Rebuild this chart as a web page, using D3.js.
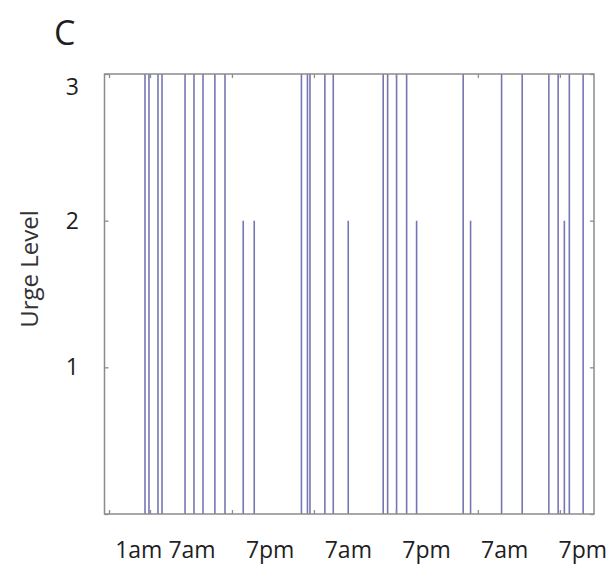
<!DOCTYPE html>
<html>
<head>
<meta charset="utf-8">
<script src="https://cdn.jsdelivr.net/npm/d3@7"></script>
<style>
  html, body { margin: 0; padding: 0; background: #fff; }
  svg { display: block; font-family: "Open Sans", "DejaVu Sans", sans-serif; }
</style>
</head>
<body>
<svg id="chart" width="616" height="564"></svg>
<script>
// ---- data (hours since midnight of day 1) ----
const eventHours = [6.27, 6.85, 8.17, 8.76, 12.13, 13.44, 14.76, 16.5, 17.98, 20.65, 22.26,
                    29.17, 30.05, 30.42, 32.6, 33.83, 36.02, 41.14, 41.79, 43.1, 44.57, 46.03,
                    52.85, 53.93, 58.47, 61.49, 65.39, 66.75, 67.66, 68.39, 70.41];
const urgeLevels = [3, 3, 3, 3, 3, 3, 3, 3, 3, 2, 2,
                    3, 3, 3, 3, 3, 2, 3, 3, 3, 3, 2,
                    3, 2, 3, 3, 3, 3, 2, 3, 3];
const xTickHours = [1, 7, 19, 31, 43, 55, 67];
const xTickLabels = ["1am", "7am", "7pm", "7am", "7pm", "7am", "7pm"];
const yTickValues = [0, 1, 2, 3];
const yTickLabels = ["", "1", "2", "3"];
const xDomain = [0.34, 72];
const yDomain = [0, 3];
const panelLabel = "C";
const yAxisTitle = "Urge Level";

// ---- layout ----
const plotLeft = 104.5, plotRight = 594, plotTop = 74, plotBottom = 514;
const axisColor = "#8c8c8c";
const lineColor = "#7676b4";
const textColor = "#1e1e1e";

const svg = d3.select("#chart");
const x = d3.scaleLinear().domain(xDomain).range([plotLeft, plotRight]);
const y = d3.scaleLinear().domain(yDomain).range([plotBottom, plotTop]);

// event lines
svg.append("g")
  .selectAll("line")
  .data(eventHours.map((h, i) => ({ h, v: urgeLevels[i] })))
  .join("line")
  .attr("x1", d => x(d.h)).attr("x2", d => x(d.h))
  .attr("y1", y(0)).attr("y2", d => y(d.v))
  .attr("stroke", lineColor)
  .attr("stroke-width", 1.6);

// inside ticks on all four sides
const tickLen = 4;
function styleAxis(g) {
  g.select(".domain").remove();
  g.selectAll(".tick line").attr("stroke", axisColor).attr("stroke-width", 1.3);
  g.selectAll(".tick text").remove();
}
svg.append("g").attr("transform", `translate(0,${plotBottom})`)
  .call(d3.axisBottom(x).tickValues(xTickHours).tickSize(-tickLen)).call(styleAxis);
svg.append("g").attr("transform", `translate(0,${plotTop})`)
  .call(d3.axisTop(x).tickValues(xTickHours).tickSize(-tickLen)).call(styleAxis);
svg.append("g").attr("transform", `translate(${plotLeft},0)`)
  .call(d3.axisLeft(y).tickValues(yTickValues).tickSize(-tickLen)).call(styleAxis);
svg.append("g").attr("transform", `translate(${plotRight},0)`)
  .call(d3.axisRight(y).tickValues(yTickValues).tickSize(-tickLen)).call(styleAxis);

// box
svg.append("rect")
  .attr("x", plotLeft).attr("y", plotTop)
  .attr("width", plotRight - plotLeft).attr("height", plotBottom - plotTop)
  .attr("fill", "none").attr("stroke", axisColor).attr("stroke-width", 1.5);

// x tick labels (placed on a label scale, then de-overlapped right-to-left)
const labelScale = d3.scaleLinear().domain([7, 67]).range([x(7) + 42, x(67) + 23]);
const xLab = svg.append("g").selectAll("text")
  .data(xTickHours.map((h, i) => ({ h, t: xTickLabels[i] })))
  .join("text")
  .attr("x", d => labelScale(d.h))
  .attr("y", 558)
  .attr("text-anchor", "middle")
  .attr("font-size", 23)
  .attr("fill", textColor)
  .text(d => d.t);
const nodes = xLab.nodes();
for (let i = nodes.length - 2; i >= 0; i--) {
  const a = nodes[i], b = nodes[i + 1];
  const wa = a.getComputedTextLength(), wb = b.getComputedTextLength();
  const xa = +a.getAttribute("x"), xb = +b.getAttribute("x");
  const maxXa = xb - wb / 2 - 6 - wa / 2;
  if (xa > maxXa) a.setAttribute("x", maxXa);
}

// y tick labels
svg.append("g").selectAll("text")
  .data(yTickValues.map((v, i) => ({ v, t: yTickLabels[i] })).filter(d => d.t !== ""))
  .join("text")
  .attr("x", 79)
  .attr("y", d => Math.max(y(d.v), plotTop + 13))
  .attr("dy", "0.35em")
  .attr("text-anchor", "end")
  .attr("font-size", 23)
  .attr("fill", textColor)
  .text(d => d.t);

// y axis title
svg.append("text")
  .attr("transform", `translate(38,${(plotTop + plotBottom) / 2 - 25}) rotate(-90)`)
  .attr("text-anchor", "middle")
  .attr("font-size", 24)
  .attr("fill", "#333")
  .text(yAxisTitle);

// panel label
svg.append("text")
  .attr("x", 54).attr("y", 45)
  .attr("font-size", 34)
  .attr("fill", textColor)
  .text(panelLabel);
</script>
</body>
</html>
